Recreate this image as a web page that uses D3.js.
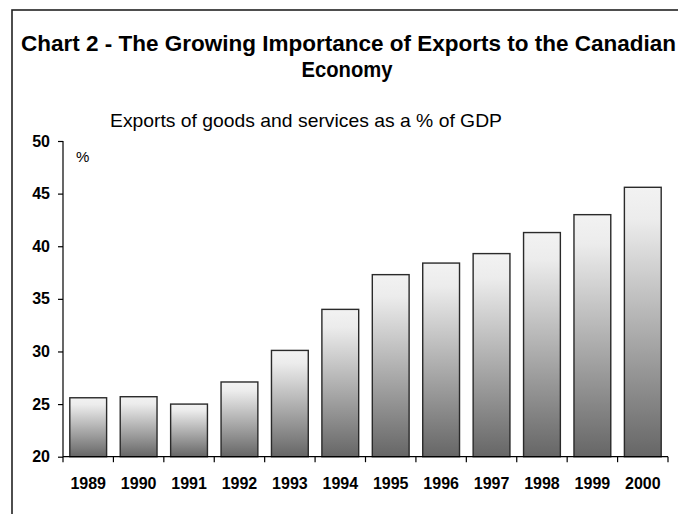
<!DOCTYPE html>
<html>
<head>
<meta charset="utf-8">
<script src="https://cdn.jsdelivr.net/npm/d3@7"></script>
<style>
  html, body { margin: 0; padding: 0; background: #fff; }
  svg { display: block; }
  text { font-family: Arial, "Liberation Sans", sans-serif; }
</style>
</head>
<body>
<svg id="chart" width="678" height="514"></svg>
<script>
const years = ["1989","1990","1991","1992","1993","1994","1995","1996","1997","1998","1999","2000"];
const exportShare = [25.6, 25.7, 25.0, 27.1, 30.1, 34.0, 37.3, 38.4, 39.3, 41.3, 43.0, 45.6];
const yTicks = [20, 25, 30, 35, 40, 45, 50];
const titleLines = ["Chart 2 - The Growing Importance of Exports to the Canadian", "Economy"];
const subtitle = "Exports of goods and services as a % of GDP";
const unitLabel = "%";

const svg = d3.select("#chart");
const plot = { left: 63, right: 668, top: 141, bottom: 456.7 };

// outer frame (extends past right and bottom edges)
svg.append("rect")
  .attr("x", 12).attr("y", 10)
  .attr("width", 700).attr("height", 540)
  .attr("fill", "none").attr("stroke", "#222").attr("stroke-width", 1.6);

// gradient
const defs = svg.append("defs");
const grad = defs.append("linearGradient")
  .attr("id", "barGrad").attr("x1", 0).attr("y1", 0).attr("x2", 0).attr("y2", 1);
grad.append("stop").attr("offset", "0%").attr("stop-color", "#f2f2f2");
grad.append("stop").attr("offset", "12%").attr("stop-color", "#ececec");
grad.append("stop").attr("offset", "100%").attr("stop-color", "#666666");

// titles
svg.append("text")
  .attr("x", 348.5).attr("y", 51)
  .attr("text-anchor", "middle")
  .attr("font-weight", "bold").attr("font-size", 21.5)
  .attr("textLength", 655).attr("lengthAdjust", "spacingAndGlyphs")
  .attr("fill", "#000")
  .text(titleLines[0]);
svg.append("text")
  .attr("x", 347).attr("y", 77)
  .attr("text-anchor", "middle")
  .attr("font-weight", "bold").attr("font-size", 21.5)
  .attr("textLength", 91).attr("lengthAdjust", "spacingAndGlyphs")
  .attr("fill", "#000")
  .text(titleLines[1]);

svg.append("text")
  .attr("x", 110).attr("y", 127)
  .attr("font-size", 18.5)
  .attr("textLength", 392).attr("lengthAdjust", "spacingAndGlyphs")
  .attr("fill", "#000")
  .text(subtitle);

svg.append("text")
  .attr("x", 76).attr("y", 162)
  .attr("font-family", "'Liberation Serif', 'Times New Roman', serif")
  .attr("font-size", 15)
  .attr("fill", "#000")
  .text(unitLabel);

// scales
const x = d3.scaleBand()
  .domain(years)
  .range([plot.left, plot.right])
  .paddingInner(0.27)
  .paddingOuter(0.135);

const y = d3.scaleLinear()
  .domain([20, 50])
  .range([plot.bottom, plot.top]);

// bars
svg.append("g").selectAll("rect")
  .data(years.map((yr, i) => ({ yr, v: exportShare[i] })))
  .join("rect")
  .attr("x", d => x(d.yr))
  .attr("y", d => y(d.v))
  .attr("width", x.bandwidth())
  .attr("height", d => y(20) - y(d.v))
  .attr("fill", "url(#barGrad)")
  .attr("stroke", "#2a2a2a")
  .attr("stroke-width", 1.4);

// y axis
const yAxis = d3.axisLeft(y).tickValues(yTicks).tickSize(5).tickPadding(8).tickFormat(d3.format("d"));
const yg = svg.append("g").attr("transform", `translate(${plot.left},0)`).call(yAxis);
yg.select(".domain").remove();
yg.selectAll("line").attr("stroke", "#000").attr("stroke-width", 1.2);
yg.selectAll("text")
  .attr("font-size", 16).attr("font-weight", "bold")
  .attr("font-family", "Arial, 'Liberation Sans', sans-serif")
  .attr("fill", "#000");

// y axis line (extends slightly below x axis)
svg.append("line")
  .attr("x1", plot.left).attr("x2", plot.left)
  .attr("y1", y(50)).attr("y2", y(20) + 5.5)
  .attr("stroke", "#000").attr("stroke-width", 1.2);

// x axis
const xAxis = d3.axisBottom(x).tickSize(0).tickPadding(21);
const xg = svg.append("g").attr("transform", `translate(0,${y(20)})`).call(xAxis);
xg.select(".domain").remove();
xg.selectAll("text")
  .attr("font-size", 16).attr("font-weight", "bold")
  .attr("font-family", "Arial, 'Liberation Sans', sans-serif")
  .attr("fill", "#000");

svg.append("line")
  .attr("x1", plot.left).attr("x2", plot.right)
  .attr("y1", y(20)).attr("y2", y(20))
  .attr("stroke", "#000").attr("stroke-width", 1.2);

// category boundary ticks
const step = x.step();
const boundaries = d3.range(1, years.length + 1).map(i => plot.left + i * step);
svg.append("g").selectAll("line")
  .data(boundaries)
  .join("line")
  .attr("x1", d => d).attr("x2", d => d)
  .attr("y1", y(20)).attr("y2", y(20) + 5.5)
  .attr("stroke", "#000").attr("stroke-width", 1.2);
</script>
</body>
</html>
